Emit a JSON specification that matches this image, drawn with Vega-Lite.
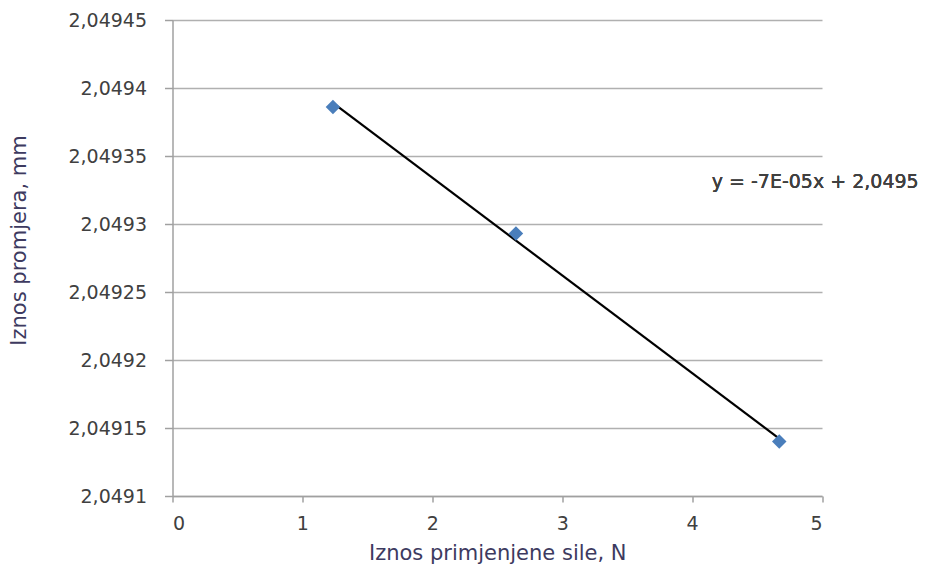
{
  "$schema": "https://vega.github.io/schema/vega-lite/v6.json",
  "autosize": "none",
  "width": 649.5,
  "height": 476,
  "padding": {"left": 172.5, "top": 20, "right": 111, "bottom": 71},
  "background": "white",
  "config": {
    "view": {"stroke": null},
    "font": "DejaVu Sans",
    "axis": {"labelFont": "DejaVu Sans", "titleFont": "DejaVu Sans", "labelFontSize": 19, "titleFontSize": 21, "labelColor": "#404040", "titleColor": "#3d3a60", "titleFontWeight": "normal", "domainColor": "#a0a0a0", "tickColor": "#a0a0a0", "gridColor": "#b0b0b0", "domainWidth": 1.5, "tickWidth": 1.5, "gridWidth": 1.5}
  },
  "data": {"values": [
    {"sila": 1.235, "promjer": 2.049386},
    {"sila": 2.644, "promjer": 2.049293},
    {"sila": 4.671, "promjer": 2.04914}
  ]},
  "layer": [
    {
      "transform": [{"regression": "promjer", "on": "sila"}],
      "mark": {"type": "line", "color": "black", "strokeWidth": 2.2},
      "encoding": {
        "x": {"field": "sila", "type": "quantitative"},
        "y": {"field": "promjer", "type": "quantitative"}
      }
    },
    {
      "mark": {"type": "point", "shape": "diamond", "filled": true, "color": "#4a7ebb", "size": 210, "opacity": 1},
      "encoding": {
        "x": {"field": "sila", "type": "quantitative", "scale": {"domain": [0, 5], "nice": false}, "axis": {"values": [0, 1, 2, 3, 4, 5], "format": "d", "grid": false, "tickSize": 6, "labelPadding": 12, "title": "Iznos primjenjene sile, N", "titleY": 57, "titleBaseline": "middle"}},
        "y": {"field": "promjer", "type": "quantitative", "scale": {"domain": [2.0491, 2.04945], "nice": false, "zero": false}, "axis": {"values": [2.0491, 2.04915, 2.0492, 2.04925, 2.0493, 2.04935, 2.0494, 2.04945], "grid": true, "tickSize": 8, "labelPadding": 18, "labelExpr": "replace(format(datum.value, '.6~g'), '.', ',')", "title": "Iznos promjera, mm", "titleX": -153, "titleY": 220, "titleAngle": -90, "titleBaseline": "middle", "titleAlign": "center"}}
      }
    },
    {
      "mark": {"type": "text", "align": "left", "baseline": "middle", "fontSize": 19, "font": "DejaVu Sans", "color": "#404040"},
      "encoding": {
        "x": {"datum": 4.151},
        "y": {"datum": 2.049331},
        "text": {"value": "y = -7E-05x + 2,0495"}
      }
    }
  ]
}
